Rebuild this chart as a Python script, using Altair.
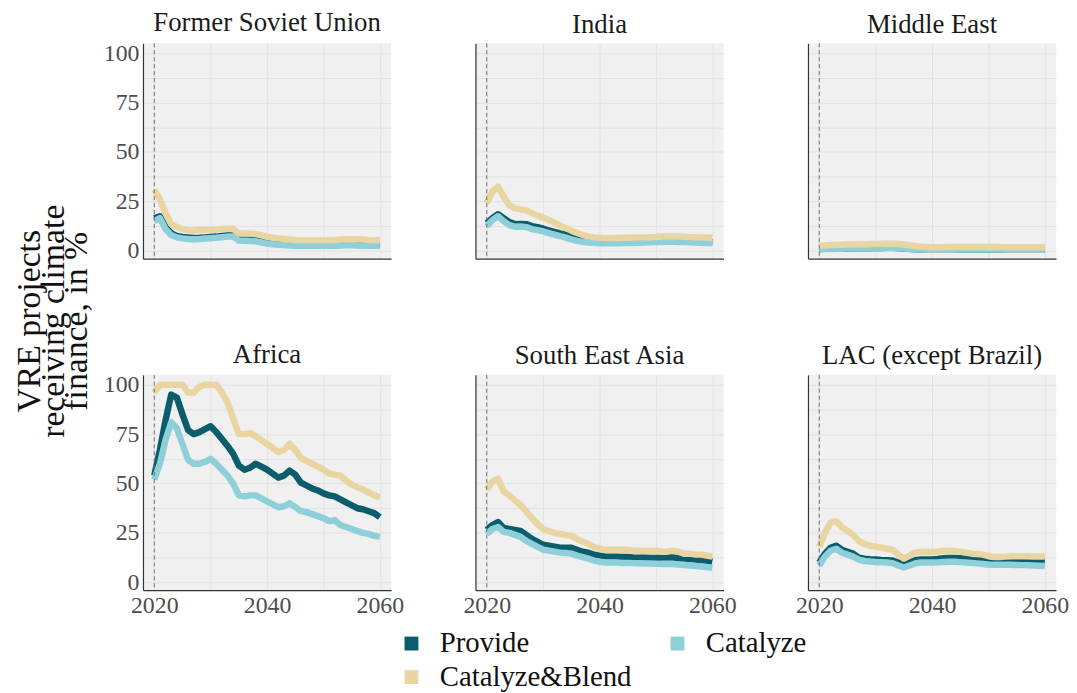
import altair as alt
import pandas as pd

years = list(range(2020, 2061))
regions = ["Former Soviet Union", "India", "Middle East",
           "Africa", "South East Asia", "LAC (except Brazil)"]
series_names = ["Provide", "Catalyze", "Catalyze&Blend"]
series_colors = ["#0b5d6c", "#8fcfd9", "#e8d5a1"]
ref_year = [2020]
y_title_lines = ["VRE projects", "receiving climate", "finance, in %"]

fsu_provide = [16.5, 17.5, 12, 9, 7.5, 7, 6.7, 6.5, 6.6, 6.8, 7, 7.2, 7.5, 7.8, 7.8, 5.8, 5.7, 5.6, 5.4, 4.8, 4.2, 3.8, 3.6, 3.4, 3.2, 3.1, 3, 3, 3, 3, 3, 3.1, 3.1, 3.2, 3.3, 3.3, 3.2, 3.1, 3, 3, 3]
fsu_catalyze = [15, 16.5, 11, 8, 6.8, 6.3, 6, 5.9, 6, 6.2, 6.4, 6.6, 6.9, 7.2, 7.2, 5.2, 5.1, 5, 4.8, 4.2, 3.6, 3.3, 3.1, 2.9, 2.7, 2.6, 2.5, 2.5, 2.5, 2.5, 2.5, 2.6, 2.6, 2.7, 2.8, 2.8, 2.7, 2.6, 2.5, 2.5, 2.5]
fsu_blend = [31, 26, 19, 13.5, 12, 11, 10.3, 10.3, 10.5, 10.6, 10.7, 10.8, 11, 11.2, 11.2, 8.8, 8.8, 8.7, 8.5, 7.8, 7, 6.6, 6.3, 6, 5.7, 5.5, 5.4, 5.4, 5.4, 5.4, 5.4, 5.4, 5.5, 5.7, 5.9, 6, 5.9, 5.7, 5.5, 5.4, 5.3]

ind_provide = [14, 16.5, 18.5, 16.5, 14.5, 13.5, 13.6, 13.5, 12.5, 12, 11.2, 10.3, 9.6, 8.8, 8.2, 7.2, 6, 5.4, 5, 4.7, 4.5, 4.4, 4.4, 4.4, 4.4, 4.4, 4.5, 4.6, 4.7, 4.8, 4.9, 5, 5.2, 5.2, 5.1, 5, 4.9, 4.8, 4.6, 4.5, 4.4]
ind_catalyze = [12.5, 15.5, 17.5, 15, 13, 12.2, 12.3, 12, 11, 10.5, 9.8, 9, 8.2, 7.4, 6.7, 5.8, 5, 4.5, 4.2, 4, 3.8, 3.8, 3.8, 3.8, 3.9, 3.9, 4, 4.1, 4.2, 4.3, 4.4, 4.5, 4.6, 4.6, 4.5, 4.4, 4.3, 4.2, 4.1, 4, 3.9]
ind_blend = [24, 30, 32.5, 27.5, 23, 21.5, 21, 20.5, 19, 17.8, 16.8, 15.6, 14.2, 12.8, 11.5, 10.2, 9, 8, 7.3, 6.8, 6.6, 6.5, 6.5, 6.5, 6.6, 6.6, 6.7, 6.8, 6.8, 6.9, 7, 7.2, 7.4, 7.4, 7.3, 7.1, 7, 6.9, 6.8, 6.7, 6.6]

me_provide = [0.9, 1.0, 1.0, 1.1, 1.1, 1.2, 1.2, 1.2, 1.3, 1.3, 1.4, 1.4, 1.5, 1.5, 1.4, 1.2, 1.0, 0.8, 0.7, 0.6, 0.6, 0.6, 0.6, 0.6, 0.6, 0.7, 0.7, 0.7, 0.7, 0.7, 0.7, 0.7, 0.7, 0.6, 0.6, 0.6, 0.6, 0.6, 0.6, 0.6, 0.6]
me_catalyze = [0.8, 0.9, 0.9, 1.0, 1.0, 1.1, 1.1, 1.1, 1.2, 1.2, 1.3, 1.3, 1.4, 1.4, 1.3, 1.1, 0.9, 0.7, 0.6, 0.5, 0.5, 0.5, 0.5, 0.5, 0.5, 0.6, 0.6, 0.6, 0.6, 0.6, 0.6, 0.6, 0.6, 0.5, 0.5, 0.5, 0.5, 0.5, 0.5, 0.5, 0.5]
me_blend = [2.5, 2.7, 2.9, 3.0, 3.1, 3.2, 3.2, 3.3, 3.3, 3.4, 3.5, 3.5, 3.6, 3.6, 3.5, 3.2, 2.8, 2.4, 2.1, 1.9, 1.8, 1.8, 1.8, 1.9, 1.9, 1.9, 1.9, 1.9, 1.9, 1.9, 1.9, 1.9, 1.9, 1.8, 1.8, 1.8, 1.8, 1.8, 1.8, 1.8, 1.8]

afr_provide = [54, 67, 82, 95, 93.5, 85, 77, 75, 76, 77.5, 79, 76, 72.5, 69, 65, 59, 57, 58, 60, 58.5, 57, 55, 53, 54, 56.5, 54.5, 50.5, 49, 47.5, 46.5, 45, 44, 43.5, 42, 40.5, 39, 37.5, 37, 36, 35, 33]
afr_catalyze = [52, 60, 72, 81, 78, 70, 62, 60, 60, 61, 62.5, 60, 57, 54, 50, 44, 43.5, 44, 44, 42.5, 41, 39.5, 38, 38.5, 40, 38, 36, 35.5, 34.5, 33.5, 32.5, 31, 31.5, 29, 28, 27, 26, 25, 24.5, 23.5, 23]
afr_blend = [96, 100, 100, 100, 100, 100, 96, 96, 99, 100, 100, 100, 96, 91, 83, 75, 75, 75.5, 74, 72, 70, 68, 66, 67, 70, 67, 63, 61.5, 60, 58.5, 57, 55, 54.5, 54, 51.5, 49.5, 48, 47, 45.5, 44, 43]

sea_provide = [26.5, 29, 30.5, 27.5, 27, 26.5, 26, 24, 22, 20.5, 19, 18.5, 18, 17.5, 17.5, 17.5, 16.5, 15.5, 15, 14, 13.5, 13, 13, 13, 12.8, 12.8, 12.6, 12.5, 12.5, 12.3, 12.3, 12.5, 12.7, 12.6, 12.2, 12, 11.8, 11.5, 11.2, 11, 10.5]
sea_catalyze = [24.5, 27, 28, 25.5, 25, 24, 23, 21, 19.5, 18, 16.5, 16, 15.5, 15, 14.8, 14.5, 13.5, 12.8, 12, 11, 10.5, 10, 10, 10, 9.8, 9.8, 9.7, 9.6, 9.5, 9.5, 9.4, 9.3, 9.3, 9.3, 9, 8.8, 8.5, 8.3, 8, 7.7, 7.3]
sea_blend = [47, 51, 52.5, 46, 44, 41.5, 39, 36, 32.5, 29.5, 27, 26, 25, 24.5, 24, 23.5, 22, 20.5, 19.5, 18, 17, 16.5, 16.5, 16.5, 16.5, 16.5, 16, 16, 16, 16, 16, 15.5, 15.5, 16, 15.5, 14.5, 14.5, 14, 14, 13.5, 13]

lac_provide = [10, 14.5, 17.5, 18.5, 16.5, 15.5, 14.5, 12.5, 12, 11.7, 11.5, 11.3, 11.2, 11, 10, 9, 10, 11.2, 11.6, 11.6, 11.6, 11.8, 12.2, 12.3, 12.3, 12.2, 12, 11.8, 11.5, 11.2, 10.8, 10.6, 10.6, 10.7, 10.7, 10.7, 10.7, 10.7, 10.6, 10.6, 10.5]
lac_catalyze = [8.5, 13, 16, 17, 15, 14, 13, 11.5, 10.8, 10.5, 10.3, 10.2, 10, 9.7, 8.5, 7.5, 8.5, 9.5, 10, 10, 10, 10.1, 10.3, 10.4, 10.4, 10.2, 10, 9.8, 9.6, 9.3, 9, 8.9, 8.9, 8.9, 8.9, 8.8, 8.7, 8.6, 8.5, 8.4, 8.3]
lac_blend = [18, 25, 30, 31, 28, 26, 24, 21, 19.5, 18.5, 18, 17.5, 17, 16.5, 14, 12, 13.5, 15, 15.5, 15.3, 15.3, 15.5, 16, 16, 15.8, 15.5, 15, 14.5, 14.3, 14, 13.2, 12.8, 12.8, 13, 13.2, 13.2, 13.2, 13.2, 13.1, 13.1, 13]

region_series = {
    "Former Soviet Union": (fsu_provide, fsu_catalyze, fsu_blend),
    "India": (ind_provide, ind_catalyze, ind_blend),
    "Middle East": (me_provide, me_catalyze, me_blend),
    "Africa": (afr_provide, afr_catalyze, afr_blend),
    "South East Asia": (sea_provide, sea_catalyze, sea_blend),
    "LAC (except Brazil)": (lac_provide, lac_catalyze, lac_blend),
}

rows = []
for reg in regions:
    for name, vals in zip(series_names, region_series[reg]):
        for yr, v in zip(years, vals):
            rows.append({"region": reg, "series": name, "year": yr, "value": v})
df = pd.DataFrame(rows)
ref_df = pd.DataFrame({"year": ref_year})

FONT = "Liberation Serif"
color_scale = alt.Scale(domain=series_names, range=series_colors)
PW, PH = 250, 217
GAP_X = 85


def panel(reg, show_x, show_y):
    x_enc = alt.X(
        "year:Q",
        scale=alt.Scale(domain=[2018, 2062], nice=False, zero=False),
        axis=alt.Axis(
            values=[2020, 2030, 2040, 2050, 2060],
            labelExpr="datum.value % 20 == 0 ? datum.label : ''",
            labels=show_x, title=None, format="d", labelPadding=3,
        ),
    )
    y_enc = alt.Y(
        "value:Q",
        scale=alt.Scale(domain=[-4, 105], nice=False, zero=False),
        axis=alt.Axis(
            values=[0, 12.5, 25, 37.5, 50, 62.5, 75, 87.5, 100],
            labelExpr="datum.value % 25 == 0 ? datum.label : ''",
            labels=show_y, title=None, labelPadding=4,
        ),
    )
    base = alt.Chart(df).transform_filter(alt.datum.region == reg)
    layers = []
    for name in series_names:
        layers.append(
            base.transform_filter(alt.datum.series == name)
            .mark_line(strokeWidth=6.5, strokeJoin="round", strokeCap="butt")
            .encode(
                x=x_enc, y=y_enc,
                color=alt.Color("series:N", scale=color_scale,
                                sort=series_names, title=None),
            )
        )
    rule = alt.Chart(ref_df).mark_rule(
        color="#6e6e6e", strokeDash=[4, 3], strokeWidth=1
    ).encode(x=alt.X("year:Q"))
    return alt.layer(*layers, rule).properties(width=PW, height=PH, title=reg)


row1 = alt.hconcat(
    panel(regions[0], False, True),
    panel(regions[1], False, False),
    panel(regions[2], False, False),
    spacing=GAP_X, bounds="flush",
)
row2 = alt.hconcat(
    panel(regions[3], True, True),
    panel(regions[4], True, False),
    panel(regions[5], True, False),
    spacing=GAP_X, bounds="flush",
)
grid = alt.vconcat(row1, row2, spacing=77)

ytitle = alt.Chart(pd.DataFrame({"label": [0]})).mark_text(
    text=y_title_lines, angle=270, font=FONT, fontSize=34, lineHeight=24,
    align="center", baseline="middle", color="#111111",
).encode(
    x=alt.value(22), y=alt.value(280),
).properties(
    width=100, height=2 * PH + 109,
    view=alt.ViewBackground(fill="#ffffff", stroke="#ffffff", strokeOpacity=0),
)

chart = alt.hconcat(ytitle, grid, spacing=36, bounds="flush").properties(
    padding={"left": 0, "top": -2, "right": 0, "bottom": 0},
).configure_view(
    fill="#f0f0f0", stroke=None,
).configure_axis(
    domainColor="#333333", domainWidth=1.2,
    gridColor="#e2e2e2", gridWidth=1,
    ticks=False,
    labelFont=FONT, labelFontSize=24, labelColor="#4d4d4d",
).configure_title(
    font=FONT, fontSize=27, fontWeight="normal", color="#1a1a1a",
    offset=0, anchor="middle",
).configure_legend(
    orient="none", legendX=392, legendY=590,
    direction="horizontal", columns=2,
    labelFont=FONT, labelFontSize=29, labelColor="#111111", labelLimit=400,
    symbolType="square", symbolSize=36, symbolStrokeWidth=8,
    labelOffset=14, columnPadding=26, rowPadding=-6,
)

chart.save("out.html", embed_options={"renderer": "svg", "actions": False})
